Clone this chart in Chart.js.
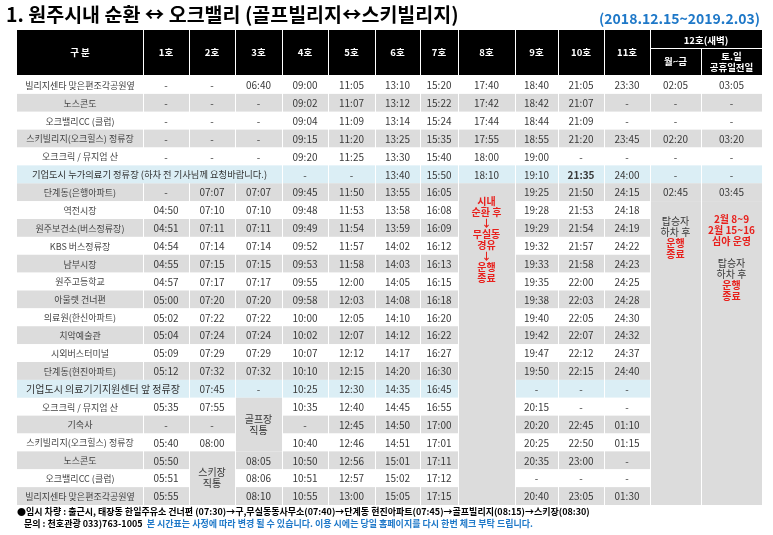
<!DOCTYPE html>
<html><head><meta charset="utf-8">
<script src="https://cdn.jsdelivr.net/npm/chart.js@4.4.0/dist/chart.umd.min.js"></script>
<style>html,body{margin:0;padding:0;background:#fff}canvas{display:block}</style>
</head><body><canvas id="c" width="773" height="535"></canvas>
<script>
const title = "1. 원주시내 순환 ↔ 오크밸리 (골프빌리지↔스키빌리지)";
const period = "(2018.12.15~2019.2.03)";
const headers = ["구 분","1호","2호","3호","4호","5호","6호","7호","8호","9호","10호","11호","월~금","토.일\n공휴일전일"];
const stops = ["빌리지센타 맞은편조각공원옆","노스콘도","오크밸리CC (클럽)","스키빌리지(오크힐스) 정류장","오크크릭 / 뮤지엄 산",
"기업도시 누가의료기 정류장 (하차 전 기사님께 요청바랍니다.)","단계동(은행아파트)","역전시장","원주보건소(버스정류장)","KBS 버스정류장","남부시장","원주고등학교",
"아울렛 건너편","의료원(한신아파트)","치악예술관","시외버스터미널","단계동(현진아파트)","기업도시 의료기기지원센터 앞 정류장",
"오크크릭 / 뮤지엄 산","기숙사","스키빌리지(오크힐스) 정류장","노스콘도","오크밸리CC (클럽)","빌리지센타 맞은편조각공원옆"];
const c1 = ['-','-','-','-','-',null,'-','04:50','04:51','04:54','04:55','04:57','05:00','05:02','05:04','05:09','05:12',null,'05:35','-','05:40','05:50','05:51','05:55'];
const c2 = ['-','-','-','-','-',null,'07:07','07:10','07:11','07:14','07:15','07:17','07:20','07:22','07:24','07:29','07:32','07:45','07:55','-','08:00',null,null,null];
const c3 = ['06:40','-','-','-','-',null,'07:07','07:10','07:11','07:14','07:15','07:17','07:20','07:22','07:24','07:29','07:32','-',null,null,null,'08:05','08:06','08:10'];
const c4 = ['09:00','09:02','09:04','09:15','09:20','-','09:45','09:48','09:49','09:52','09:53','09:55','09:58','10:00','10:02','10:07','10:10','10:25','10:35','-','10:40','10:50','10:51','10:55'];
const c5 = ['11:05','11:07','11:09','11:20','11:25','-','11:50','11:53','11:54','11:57','11:58','12:00','12:03','12:05','12:07','12:12','12:15','12:30','12:40','12:45','12:46','12:56','12:57','13:00'];
const c6 = ['13:10','13:12','13:14','13:25','13:30','13:40','13:55','13:58','13:59','14:02','14:03','14:05','14:08','14:10','14:12','14:17','14:20','14:35','14:45','14:50','14:51','15:01','15:02','15:05'];
const c7 = ['15:20','15:22','15:24','15:35','15:40','15:50','16:05','16:08','16:09','16:12','16:13','16:15','16:18','16:20','16:22','16:27','16:30','16:45','16:55','17:00','17:01','17:11','17:12','17:15'];
const c8 = ['17:40','17:42','17:44','17:55','18:00','18:10',null,null,null,null,null,null,null,null,null,null,null,null,null,null,null,null,null,null];
const c9 = ['18:40','18:42','18:44','18:55','19:00','19:10','19:25','19:28','19:29','19:32','19:33','19:35','19:38','19:40','19:42','19:47','19:50','-','20:15','20:20','20:25','20:35','-','20:40'];
const c10 = ['21:05','21:07','21:09','21:20','-','21:35','21:50','21:53','21:54','21:57','21:58','22:00','22:03','22:05','22:07','22:12','22:15','-','-','22:45','22:50','23:00','-','23:05'];
const c11 = ['23:30','-','-','23:45','-','24:00','24:15','24:18','24:19','24:22','24:23','24:25','24:28','24:30','24:32','24:37','24:40','-','-','01:10','01:15','-','-','01:30'];
const c12a = ['02:05','-','-','02:20','-','-','02:45',null,null,null,null,null,null,null,null,null,null,null,null,null,null,null,null,null];
const c12b = ['03:05','-','-','03:20','-','-','03:45',null,null,null,null,null,null,null,null,null,null,null,null,null,null,null,null,null];
const columns = [c1,c2,c3,c4,c5,c6,c7,c8,c9,c10,c11,c12a,c12b];
const footer1 = "●임시 차량 : 출근시, 태장동 한일주유소 건너편 (07:30)→구,무실동동사무소(07:40)→단계동 현진아파트(07:45)→골프빌리지(08:15)→스키장(08:30)";
const footer2a = "문의 : 천호관광 033)763-1005";
const footer2b = "본 시간표는 사정에 따라 변경 될 수 있습니다. 이용 시에는 당일 홈페이지를 다시 한번 체크 부탁 드립니다.";

const edges = [0,126,172,218,265,311,358,403,441,498,541,587,633,684,745];
const F = '"Noto Sans CJK KR","Noto Sans",sans-serif';
const GRAY = '#dcdcdc', BLUE = '#dbeef5', RED = '#e8201c', TXT = '#3a3a3a';
const blueRows = [5,17];
const merges = [
  [5,5,0,3,BLUE,null],
  [17,17,0,1,BLUE,null],
  [6,23,8,8,GRAY,[['시내',RED],['순환 후',RED],['↓',RED],['무실동',RED],['경유',RED],['↓',RED],['운행',RED],['종료',RED]],201],
  [7,23,12,12,GRAY,[['탑승자',TXT],['하차 후',TXT],['운행',RED],['종료',RED]],221],
  [7,23,13,13,GRAY,[['2월 8~9',RED],['2월 15~16',RED],['심야 운영',RED],['',TXT],['탑승자',TXT],['하차 후',TXT],['운행',RED],['종료',RED]],219],
  [18,20,3,3,GRAY,[['골프장',TXT],['직통',TXT]]],
  [21,23,2,2,GRAY,[['스키장',TXT],['직통',TXT]]]
];
function rowBg(r){
  if (blueRows.includes(r)) return BLUE;
  if (r<5) return r%2===1?GRAY:'#fff';
  if (r<17) return r%2===0?GRAY:'#fff';
  return r%2===0?'#fff':GRAY;
}

const tablePlugin = {
  id:'table',
  afterDraw(chart){
    const ctx = chart.ctx, xs = chart.scales.x, ys = chart.scales.y, ca = chart.chartArea;
    const X = v=>xs.getPixelForValue(v);
    const rh = (ca.bottom-ca.top)/stops.length;
    const top = r=>ys.getPixelForValue(r)-rh/2;
    ctx.save();
    ctx.textBaseline='middle';
    ctx.fillStyle='#000'; ctx.textAlign='left';
    ctx.font='bold 19.5px '+F; ctx.fillText(title,6,15);
    ctx.fillStyle='#1e78c8'; ctx.textAlign='right';
    ctx.font='bold 14px '+F; ctx.fillText(period,760,19);
    const hT = 30, hB = ca.top-1;
    ctx.fillStyle='#000'; ctx.fillRect(X(0),hT,X(745)-X(0),hB-hT);
    ctx.strokeStyle='#fff'; ctx.lineWidth=1;
    ctx.fillStyle='#fff'; ctx.textAlign='center'; ctx.font='bold 9.5px '+F;
    const mid = 48;
    for (let i=0;i<14;i++){
      const x0=X(edges[i]), x1=X(edges[i+1]);
      if (i>0 && i<13){ctx.beginPath();ctx.moveTo(Math.round(x1)+0.5,i>=12?mid:hT);ctx.lineTo(Math.round(x1)+0.5,hB);ctx.stroke();}
      if (i>0 && i<12){ctx.beginPath();ctx.moveTo(Math.round(x0)+0.5,hT);ctx.lineTo(Math.round(x0)+0.5,hB);ctx.stroke();}
      const cy = i>=12 ? (mid+hB)/2 : (hT+hB)/2;
      const ls = headers[i].split('\n');
      ls.forEach((l,k)=>ctx.fillText(l,(x0+x1)/2,cy+(k-(ls.length-1)/2)*11));
    }
    ctx.beginPath();ctx.moveTo(X(edges[12]),mid+0.5);ctx.lineTo(X(745),mid+0.5);ctx.stroke();
    ctx.fillText('12호(새벽)',(X(edges[12])+X(745))/2,(hT+mid)/2+1);
    const covered = (r,c)=>merges.some(m=>r>=m[0]&&r<=m[1]&&c>=m[2]&&c<=m[3]);
    for (let r=0;r<stops.length;r++){
      const y0=top(r);
      for (let c=0;c<14;c++){
        if (covered(r,c)) continue;
        const x0=X(edges[c]), x1=X(edges[c+1]);
        ctx.fillStyle=rowBg(r); ctx.fillRect(x0+(c?1:0),y0,x1-x0-(c?1:0),rh);
        const v = c===0 ? stops[r] : columns[c-1][r];
        if (v==null) continue;
        ctx.fillStyle = c===0 ? '#444' : TXT;
        ctx.font = c===0 ? '9px '+F : (c===10&&r===5? 'bold ':'')+'10px '+F;
        ctx.fillText(v,(x0+x1)/2,y0+rh/2+0.5);
      }
    }
    merges.forEach(m=>{
      const x0=X(edges[m[2]]), x1=X(edges[m[3]+1]);
      const y0=top(m[0]), y1=top(m[1])+rh;
      ctx.fillStyle=m[4]; ctx.fillRect(x0+(m[2]?1:0),y0,x1-x0-(m[2]?1:0),y1-y0);
      if (!m[5]){
        ctx.fillStyle='#333'; ctx.font=(m[3]===3?'9.3px ':'10px ')+F;
        ctx.fillText(stops[m[0]],(x0+x1)/2,y0+rh/2+0.5);
        return;
      }
      const lh=11, n=m[5].length;
      const sy = m[6]!==undefined ? m[6] : (y0+y1)/2-(n-1)*lh/2;
      m[5].forEach((l,k)=>{ctx.fillStyle=l[1]; ctx.font=(l[1]===RED?'bold ':'')+'10px '+F; ctx.fillText(l[0],(x0+x1)/2,sy+k*lh);});
    });
    ctx.textAlign='left'; ctx.fillStyle='#000'; ctx.font='bold 9px '+F;
    ctx.fillText(footer1,17,512);
    ctx.fillText(footer2a,24,524);
    const w=ctx.measureText(footer2a+'  ').width;
    ctx.fillStyle='#1e78c8'; ctx.fillText(footer2b,24+w,524);
    ctx.restore();
  }
};

new Chart(document.getElementById('c'),{
  type:'bar',
  data:{labels:stops,datasets:[{data:stops.map(()=>null)}]},
  options:{
    indexAxis:'y', responsive:false, animation:false, devicePixelRatio:1,
    layout:{padding:{left:17,right:11,top:76,bottom:30}},
    plugins:{legend:{display:false},tooltip:{enabled:false}},
    scales:{x:{type:'linear',min:0,max:745,display:false},y:{type:'category',display:false}}
  },
  plugins:[tablePlugin]
});
</script></body></html>
